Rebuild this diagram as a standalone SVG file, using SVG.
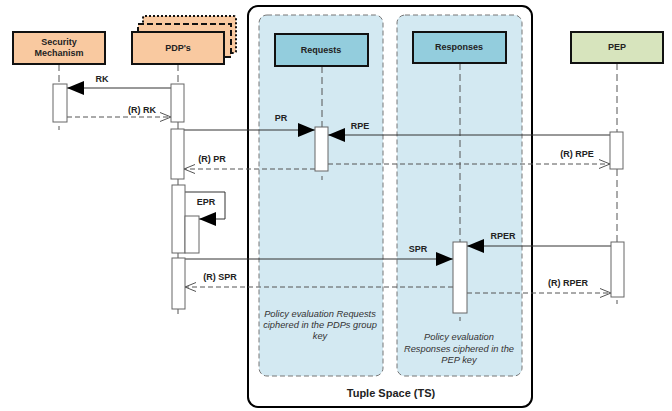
<svg xmlns="http://www.w3.org/2000/svg" width="672" height="411" viewBox="0 0 672 411">
<defs>
<style>
.box{stroke:#111;stroke-width:2}
.orange{fill:#f9c9a0}
.blue{fill:#93cddd}
.green{fill:#d7e4bd}
.lbl{font-family:"Liberation Sans",Arial,sans-serif;font-size:9px;font-weight:bold;fill:#222;text-anchor:middle}
.note{font-family:"Liberation Sans",Arial,sans-serif;font-size:9.3px;font-style:italic;fill:#333;text-anchor:middle}
.life{stroke:#555;stroke-width:1;stroke-dasharray:7,4;fill:none}
.act{fill:#fff;stroke:#666;stroke-width:1}
.msg{stroke:#333;stroke-width:1;fill:none}
.ret{stroke:#555;stroke-width:1;stroke-dasharray:5,3;fill:none}
.panel{fill:#d3e9f2;stroke:#777;stroke-width:1;stroke-dasharray:5,3}
</style>
<marker id="fill" markerUnits="userSpaceOnUse" markerWidth="18" markerHeight="15" refX="17" refY="7" orient="auto"><path d="M0,0 L17,7 L0,14 Z" fill="#000"/></marker>
<marker id="open" markerUnits="userSpaceOnUse" markerWidth="12" markerHeight="10" refX="11" refY="5" orient="auto"><path d="M0,0.5 L11,5 L0,9.5" fill="none" stroke="#555" stroke-width="1"/></marker>
</defs>
<rect width="672" height="411" fill="#fff"/>

<g id="tuple-space">
<rect x="248" y="6" width="284" height="401" rx="10" fill="#fff" stroke="#000" stroke-width="2"/>
<text class="lbl" x="391" y="397" style="font-size:11px">Tuple Space (TS)</text>
</g>
<g id="requests-panel">
<rect class="panel" x="259" y="15" width="124" height="361" rx="8"/>
<text class="note" x="320" y="317">Policy evaluation Requests</text>
<text class="note" x="320" y="328">ciphered in the PDPs group</text>
<text class="note" x="320" y="339">key</text>
</g>
<g id="responses-panel">
<rect class="panel" x="397" y="15" width="125" height="361" rx="8"/>
<text class="note" x="459" y="340">Policy evaluation</text>
<text class="note" x="459" y="352">Responses ciphered in the</text>
<text class="note" x="459" y="363">PEP key</text>
</g>

<g id="lifelines">
<path class="life" d="M59,64 V84 M59,126 V130"/>
<path class="life" d="M178,64 V84 M178,122 V129 M178,179 V185 M178,253 V258 M178,309 V314"/>
<path class="life" d="M322,66 V127 M322,176 V180"/>
<path class="life" d="M460,63 V242 M460,317 V321"/>
<path class="life" d="M617,63 V132 M617,169 V242 M617,300 V304"/>
</g>

<g id="security-mechanism">
<rect class="box orange" x="13" y="32" width="92" height="32"/>
<text class="lbl" x="59" y="45">Security</text>
<text class="lbl" x="59" y="56">Mechanism</text>
</g>
<g id="pdps">
<rect class="orange" x="143" y="16" width="93" height="37" rx="2" stroke="#111" stroke-width="2" stroke-dasharray="2,2"/>
<rect class="orange" x="138" y="24" width="93" height="33" stroke="#111" stroke-width="2" stroke-dasharray="6,3"/>
<rect class="box orange" x="132" y="32" width="92" height="32"/>
<text class="lbl" x="178" y="51">PDP's</text>
</g>
<g id="requests">
<rect class="box blue" x="275" y="34" width="93" height="32"/>
<text class="lbl" x="321" y="53">Requests</text>
</g>
<g id="responses">
<rect class="box blue" x="413" y="32" width="93" height="31"/>
<text class="lbl" x="459" y="50">Responses</text>
</g>
<g id="pep">
<rect class="box green" x="571" y="32" width="92" height="31"/>
<text class="lbl" x="617" y="50">PEP</text>
</g>

<g id="connectors">
<line class="msg" x1="171" y1="88" x2="67" y2="88" marker-end="url(#fill)"/>
<text class="lbl" x="102" y="82">RK</text>
<line class="ret" x1="67" y1="117" x2="171" y2="117" marker-end="url(#open)"/>
<text class="lbl" x="142" y="113">(R) RK</text>

<line class="msg" x1="184" y1="130" x2="315" y2="130" marker-end="url(#fill)"/>
<text class="lbl" x="281" y="121">PR</text>
<line class="msg" x1="610" y1="135" x2="328" y2="135" marker-end="url(#fill)"/>
<text class="lbl" x="360" y="129">RPE</text>
<line class="ret" x1="315" y1="169" x2="184" y2="169" marker-end="url(#open)"/>
<text class="lbl" x="212" y="162">(R) PR</text>
<line class="ret" x1="328" y1="164" x2="610" y2="164" marker-end="url(#open)"/>
<text class="lbl" x="577" y="157">(R) RPE</text>

<path class="msg" d="M185,192 H225 V219 H199" marker-end="url(#fill)"/>
<text class="lbl" x="206" y="205">EPR</text>

<line class="msg" x1="185" y1="259" x2="453" y2="259" marker-end="url(#fill)"/>
<text class="lbl" x="418" y="252">SPR</text>
<line class="msg" x1="611" y1="246" x2="467" y2="246" marker-end="url(#fill)"/>
<text class="lbl" x="503" y="239">RPER</text>
<line class="ret" x1="453" y1="287" x2="185" y2="287" marker-end="url(#open)"/>
<text class="lbl" x="220" y="280">(R) SPR</text>
<line class="ret" x1="467" y1="293" x2="611" y2="293" marker-end="url(#open)"/>
<text class="lbl" x="568" y="286">(R) RPER</text>
</g>

<g id="activations">
<rect class="act" x="53" y="84" width="14" height="38"/>
<rect class="act" x="171" y="84" width="13" height="38"/>
<rect class="act" x="171" y="129" width="13" height="50"/>
<rect class="act" x="315" y="127" width="13" height="44"/>
<rect class="act" x="610" y="132" width="13" height="37"/>
<rect class="act" x="172" y="185" width="13" height="68"/>
<rect class="act" x="185" y="216" width="14" height="37"/>
<rect class="act" x="172" y="258" width="13" height="51"/>
<rect class="act" x="453" y="242" width="14" height="71"/>
<rect class="act" x="611" y="242" width="13" height="55"/>
</g>
</svg>
